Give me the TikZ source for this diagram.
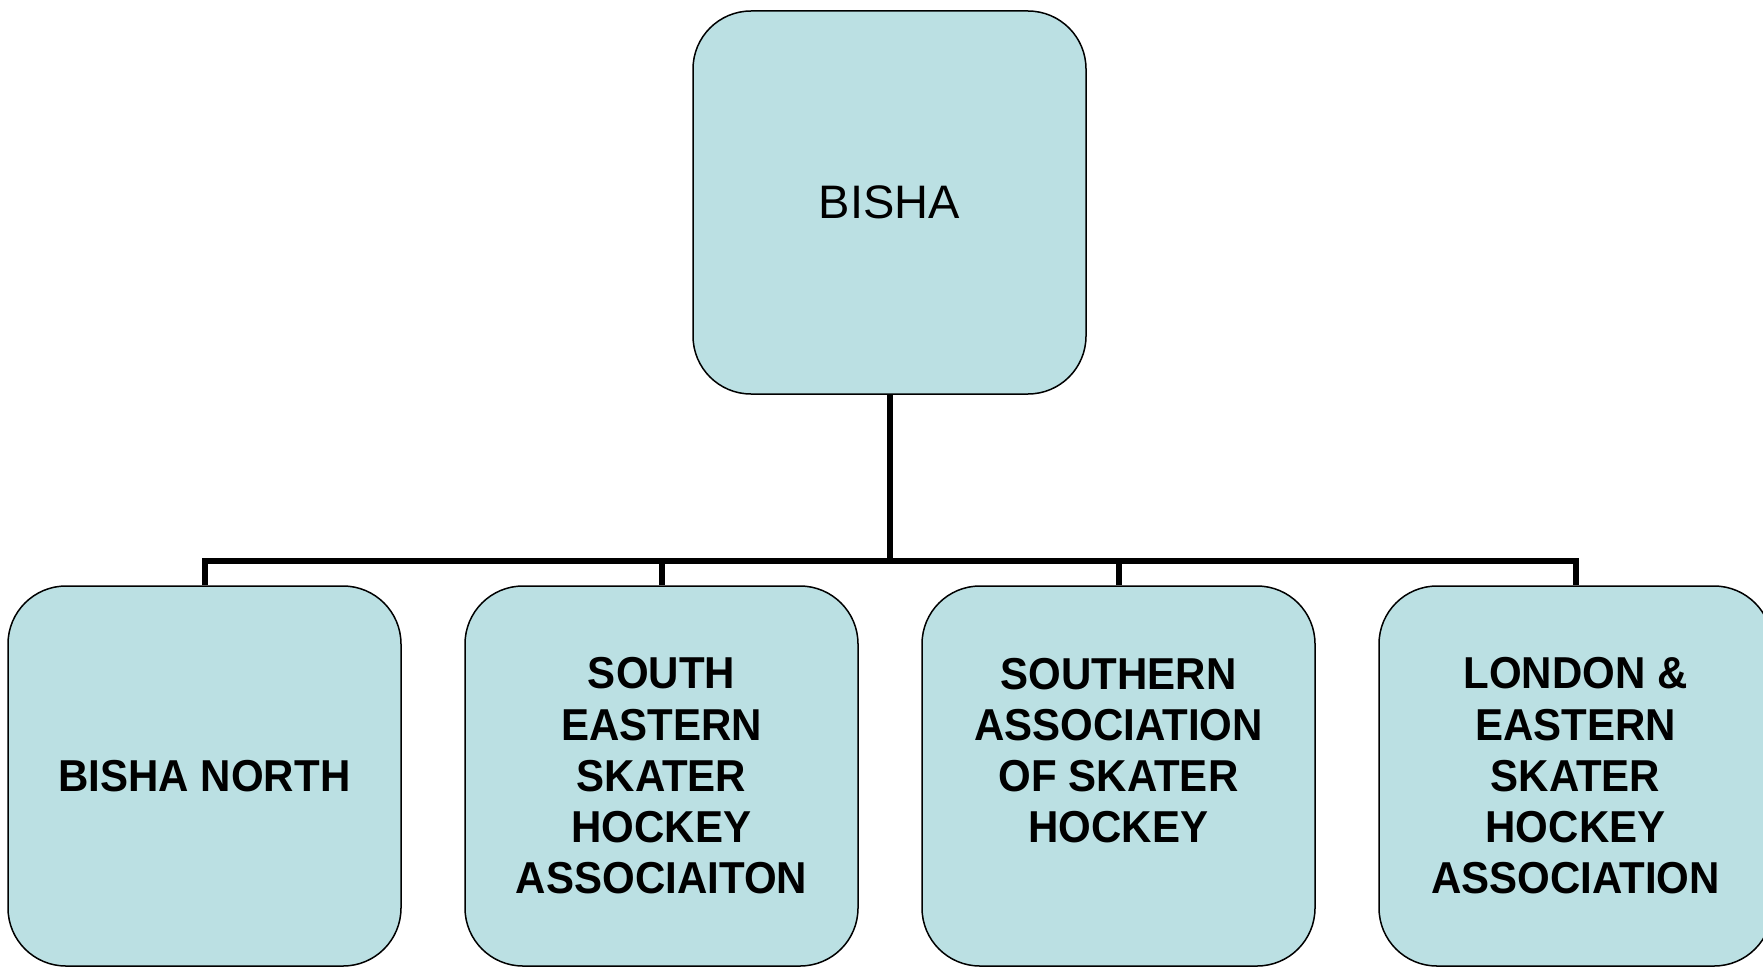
\documentclass[tikz,border=0pt]{standalone}
\usepackage{fontspec}
\setmainfont{Liberation Sans}
\newfontfamily\narrowfont{Liberation Sans}[FakeStretch=0.94]
\usetikzlibrary{positioning}
\definecolor{boxfill}{HTML}{BBE0E3}
\begin{document}
\begin{tikzpicture}[x=1pt, y=1pt,
                    org/.style = {draw, line width=1.5pt, fill=boxfill, rounded corners=58pt,
                                  minimum width=393pt, minimum height=380pt, inner sep=0pt, align=center},
                    sub/.style = {org, font=\narrowfont\bfseries\fontsize{44.7}{51.2}\selectfont},
                    link/.style = {line width=6pt}]
                    \useasboundingbox (0,0) rectangle (1763,-966);

                    \node[org, minimum height=383pt, font=\fontsize{47}{54}\selectfont] (bisha) at (889.5,-202.5) {BISHA};
                    \node[sub] (north) at (204.5,-776) {BISHA NORTH};
                    \node[sub] (southeast) [right=62.5pt of north] {SOUTH\\ EASTERN\\ SKATER\\ HOCKEY\\ ASSOCIAITON};
                    \node[sub] (southern) [right=62.5pt of southeast] {SOUTHERN\\ ASSOCIATION\\ OF SKATER\\ HOCKEY\\ \mbox{}};
                    \node[sub] (london) [right=62.5pt of southern] {LONDON \&\\ EASTERN\\ SKATER\\ HOCKEY\\ ASSOCIATION};

                    \draw[link] (north.north) -- ++(0,24) coordinate (bar) -| (london.north);
                    \draw[link] (southeast.north) -- (southeast.north |- bar);
                    \draw[link] (southern.north) -- (southern.north |- bar);
                    \draw[link] (bisha.south) -- (bisha.south |- bar);
                \end{tikzpicture}
\end{document}
